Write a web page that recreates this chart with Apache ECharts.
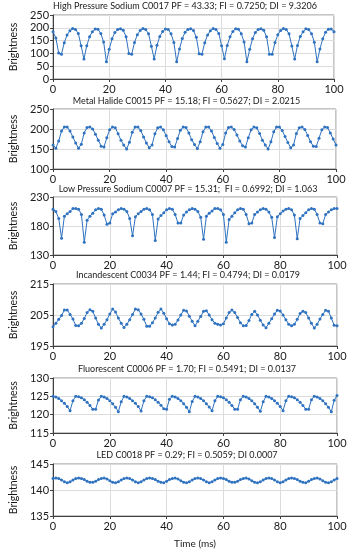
<!DOCTYPE html>
<html>
<head>
<meta charset="utf-8">
<script src="https://cdn.jsdelivr.net/npm/echarts@6/dist/echarts.min.js"></script>
<style>html,body{margin:0;padding:0;background:#fff}#c{width:352px;height:550px}</style>
</head>
<body>
<div id="c"></div>
<script>
var timeMs = [0,1,2,3,4,5,6,7,8,9,10,11,12,13,14,15,16,17,18,19,20,21,22,23,24,25,26,27,28,29,30,31,32,33,34,35,36,37,38,39,40,41,42,43,44,45,46,47,48,49,50,51,52,53,54,55,56,57,58,59,60,61,62,63,64,65,66,67,68,69,70,71,72,73,74,75,76,77,78,79,80,81,82,83,84,85,86,87,88,89,90,91,92,93,94,95,96,97,98,99,100];

var titles = [
  "High Pressure Sodium C0017 PF = 43.33; FI = 0.7250; DI = 9.3206",
  "Metal Halide C0015 PF = 15.18; FI = 0.5627; DI = 2.0215",
  "Low Pressure Sodium C0007 PF = 15.31;  FI = 0.6992; DI = 1.063",
  "Incandescent C0034 PF = 1.44; FI = 0.4794; DI = 0.0179",
  "Fluorescent C0006 PF = 1.70; FI = 0.5491; DI = 0.0137",
  "LED C0018 PF = 0.29; FI = 0.5059; DI 0.0007"
];

var hps = [185,160,102,97,142,172,188,197,193,178,130,78,130,165,185,195,194,178,145,67,116,157,182,193,196,
  190,165,100,97,143,173,189,197,193,177,128,78,132,166,186,195,193,177,143,67,117,158,183,193,196,
  189,163,99,97,142,172,188,197,193,178,130,79,131,165,186,196,194,177,145,67,116,157,182,193,196,
  190,165,97,97,143,173,189,197,193,177,129,78,131,166,185,196,193,177,144,67,117,157,183,194,195,
  185];

var mh = [160,152,170,195,205,205,195,180,165,152,162,190,204,205,200,187,172,157,155,178,198,205,203,188,172,
  160,150,167,192,205,205,196,180,165,153,160,188,203,205,198,183,168,156,155,176,197,205,204,190,173,
  161,151,168,193,205,205,195,179,164,152,161,190,204,205,199,185,170,158,155,178,198,205,203,189,172,
  160,150,168,193,205,205,196,181,166,153,160,189,203,205,199,184,168,157,156,177,198,205,204,190,175,
  160];

var lps = [209,205,193,159,197,201,205,210,210,209,200,152,190,197,202,208,210,209,199,183,185,201,204,208,210,
  209,205,193,163,196,201,205,209,210,208,200,155,192,198,203,208,210,209,200,185,185,199,204,208,210,
  209,205,195,157,197,202,206,210,210,208,200,152,191,197,203,208,210,209,200,184,185,200,204,208,210,
  209,204,195,160,196,201,206,209,210,208,199,158,193,198,203,208,210,209,200,185,184,200,204,208,210,
  210];

var inc = [201.2,202.3,203.6,204.8,206.6,206.6,205.2,203.7,201.6,201.5,202.3,203.9,205.8,206.7,206.2,204.0,202.0,200.8,202.0,203.5,205.3,206.9,206.0,204.0,202.3,
  201.0,202.0,203.5,205.2,206.9,206.7,205.3,203.6,201.4,201.4,202.5,204.0,205.9,206.9,205.6,203.8,202.2,201.8,202.0,203.4,205.0,206.5,206.3,204.6,203.0,
  201.5,203.0,204.5,206.2,206.4,205.0,203.5,202.3,202.0,201.8,202.2,204.0,205.8,206.6,205.8,204.2,202.5,201.5,201.6,203.2,205.2,206.2,205.0,203.3,201.8,
  200.9,202.3,203.8,205.3,206.5,206.3,205.0,203.5,202.0,201.5,202.0,203.6,205.5,206.2,205.8,204.0,202.3,200.8,202.0,203.7,205.2,206.5,206.2,204.0,201.7,
  201.5];

var flu = [125.0,124.8,124.4,123.8,123.1,122.2,121.1,123.8,125.0,124.9,124.6,124.1,123.4,122.5,121.5,121.5,124.0,125.0,124.8,124.4,123.8,123.0,122.0,120.8,123.5,
  125.0,124.8,124.4,123.8,123.1,122.2,121.0,123.8,125.0,124.9,124.6,124.1,123.4,122.6,121.6,121.5,124.2,125.0,124.8,124.4,123.8,123.0,122.0,120.8,123.6,
  125.0,124.8,124.4,123.8,123.0,122.1,121.1,123.8,125.0,124.9,124.6,124.1,123.4,122.5,121.5,121.5,124.1,125.0,124.8,124.4,123.8,123.0,122.0,120.9,123.5,
  125.0,124.8,124.4,123.8,123.1,122.2,121.1,123.8,125.0,124.9,124.6,124.1,123.4,122.5,121.5,121.5,124.1,125.0,124.8,124.4,123.8,123.0,122.0,120.8,123.9,
  125.2];

var led = [142.2,142.3,142.2,141.9,141.6,141.4,141.6,141.9,142.2,142.3,142.2,142.0,141.7,141.5,141.5,141.7,142.0,142.2,142.3,142.1,141.8,141.5,141.4,141.6,141.9,
  142.2,142.3,142.2,141.9,141.6,141.4,141.6,141.9,142.2,142.3,142.2,142.0,141.7,141.5,141.4,141.7,142.0,142.2,142.3,142.1,141.8,141.5,141.4,141.6,141.9,
  142.2,142.3,142.2,141.9,141.6,141.4,141.6,141.9,142.2,142.3,142.2,142.0,141.7,141.5,141.5,141.7,142.0,142.2,142.3,142.1,141.8,141.5,141.4,141.6,141.9,
  142.2,142.3,142.2,141.9,141.6,141.4,141.6,141.9,142.2,142.3,142.2,142.0,141.7,141.5,141.4,141.7,142.0,142.2,142.3,142.1,141.8,141.5,141.4,141.6,141.9,
  142.2];

var seriesValues = [hps, mh, lps, inc, flu, led];
var yMins = [0, 100, 130, 195, 115, 135];
var yMaxs = [250, 250, 230, 215, 130, 145];
var yIntervals = [50, 50, 50, 10, 5, 5];
var xTicks = {min: 0, max: 100, interval: 20};

// layout (pixels)
var grids = [
  {left: 36, right: 18, top: 15, height: 64},
  {left: 37, right: 16, top: 109, height: 60},
  {left: 39, right: 15, top: 197, height: 58},
  {left: 39, right: 15, top: 284, height: 62},
  {left: 37, right: 15, top: 378, height: 55},
  {left: 37, right: 15, top: 464, height: 56}
];
var titleY = [8, 103, 191, 277, 371, 457];

var FONT = 'Lato';
var TXT = '#1a1a1a';
var LINE = '#2f72c0';

var option = {
  animation: false,
  backgroundColor: '#fff',
  title: [], grid: [], xAxis: [], yAxis: [], series: []
};

for (var i = 0; i < 6; i++) {
  var g = grids[i];
  option.grid.push({left: g.left, right: g.right, top: g.top, height: g.height,
    show: true, borderColor: '#8c8c8c', borderWidth: 1, containLabel: false});
  var cx = g.left + (352 - g.left - g.right) / 2;
  option.title.push({text: titles[i], left: cx, top: titleY[i] - 6, textAlign: 'center',
    textStyle: {fontFamily: FONT, fontSize: 9, fontWeight: 'normal', color: TXT}, padding: 0});
  option.xAxis.push({
    type: 'value', gridIndex: i, min: xTicks.min, max: xTicks.max, interval: xTicks.interval,
    axisLine: {show: true, onZero: false, lineStyle: {color: '#404040', width: 1}},
    axisTick: {show: true, length: 3, lineStyle: {color: '#404040'}},
    axisLabel: {fontFamily: FONT, fontSize: 11, color: TXT, margin: 5},
    splitLine: {show: true, lineStyle: {color: '#dcdcdc', width: 1}},
    name: i === 5 ? 'Time (ms)' : '', nameLocation: 'middle', nameGap: 23,
    nameTextStyle: {fontFamily: FONT, fontSize: 10, color: TXT}
  });
  option.yAxis.push({
    type: 'value', gridIndex: i, min: yMins[i], max: yMaxs[i], interval: yIntervals[i],
    axisLine: {show: true, lineStyle: {color: '#404040', width: 1}},
    axisTick: {show: true, length: 3, lineStyle: {color: '#404040'}},
    axisLabel: {fontFamily: FONT, fontSize: 11, color: TXT, margin: 4},
    splitLine: {show: true, lineStyle: {color: '#dcdcdc', width: 1}},
    name: 'Brightness', nameLocation: 'middle', nameGap: g.left - 11, nameRotate: 90,
    nameTextStyle: {fontFamily: FONT, fontSize: 10.5, color: TXT}
  });
  var vals = seriesValues[i];
  var data = [];
  for (var k = 0; k < vals.length; k++) data.push([timeMs[k], vals[k]]);
  option.series.push({
    type: 'line', xAxisIndex: i, yAxisIndex: i, data: data,
    symbol: 'circle', symbolSize: 3, showSymbol: true,
    lineStyle: {color: LINE, width: 1},
    itemStyle: {color: LINE}
  });
}

var chart = echarts.init(document.getElementById('c'), null, {renderer: 'canvas'});
chart.setOption(option);
</script>
</body>
</html>
